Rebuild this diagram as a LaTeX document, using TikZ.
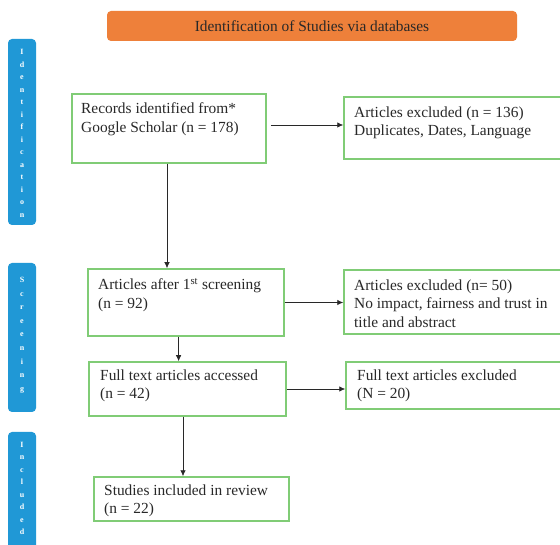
\documentclass[tikz,border=0pt]{standalone}
\usepackage{fontspec}
\setmainfont{Liberation Serif}
\usetikzlibrary{arrows.meta}
\definecolor{hdrorange}{RGB}{238,128,58}
\definecolor{barblue}{RGB}{32,152,214}
\definecolor{boxgreen}{RGB}{128,204,118}
\definecolor{inkgray}{RGB}{40,40,40}
\begin{document}
\begin{tikzpicture}[x=1pt,y=-1pt,
  box/.style={draw=boxgreen, line width=1.5pt, inner sep=0pt, fill=white},
  txt/.style={anchor=north west, inner sep=0pt, align=left, text=inkgray,
    font=\fontsize{15.4}{18.5}\selectfont},
  arr/.style={draw=inkgray, line width=0.75pt, -{Latex[length=6pt,width=5.5pt]}},
  bar/.style={fill=barblue, rounded corners=4pt, draw=none, inner sep=0pt, minimum width=28pt},
  bartxt/.style={anchor=north, text=white, align=center, inner sep=0pt,
    font=\fontsize{8}{12.5}\selectfont\bfseries},
  hdr/.style={fill=hdrorange, rounded corners=4pt, draw=none, inner sep=0pt,
    text=inkgray, font=\fontsize{15.4}{18}\selectfont}
]
\useasboundingbox (0,0) rectangle (560,545);
\clip (0,0) rectangle (560,545);
\fill[white] (0,0) rectangle (560,545);

% header
\node[hdr, minimum width=410pt, minimum height=30pt] (hdr) at (312,26) {Identification of Studies via databases};

% side bars
\node[bar, minimum height=186pt] (barI) at (22,132) {};
\node[bartxt] (barItxt) at (22,49.5) {I\\d\\e\\n\\t\\i\\f\\i\\c\\a\\t\\i\\o\\n};
\node[bar, minimum height=149pt] (barS) at (22,337.5) {};
\node[bartxt, font=\fontsize{8}{13.6}\selectfont\bfseries] (barStxt) at (22,277) {S\\c\\r\\e\\e\\n\\i\\n\\g};
\node[bar, minimum height=140pt] (barC) at (22,502) {};
\node[bartxt] (barCtxt) at (22,442) {I\\n\\c\\l\\u\\d\\e\\d};

% boxes
\node[box, minimum width=194pt, minimum height=69pt] (rec) at (169,128.5) {};
\node[txt] (rectxt) at (81,102.5) {Records identified from*\\Google Scholar (n = 178)};

\node[box, minimum width=256pt, minimum height=62pt] (ex1) at (472,128) {};
\node[txt] (ex1txt) at (354,106.5) {Articles excluded (n = 136)\\Duplicates, Dates, Language};

\node[box, minimum width=196pt, minimum height=67pt] (scr) at (186,302.5) {};
\node[txt] (scrtxt) at (98,278.5) {Articles after 1\textsuperscript{st} screening\\(n = 92)};

\node[box, minimum width=256pt, minimum height=64pt] (ex2) at (472,302) {};
\node[txt] (ex2txt) at (354,279.5) {Articles excluded (n= 50)\\No impact, fairness and trust in\\title and abstract};

\node[box, minimum width=197pt, minimum height=54pt] (full) at (187.5,389) {};
\node[txt] (fulltxt) at (100,369.5) {Full text articles accessed\\(n = 42)};

\node[box, minimum width=254pt, minimum height=47pt] (ex3) at (473,385.5) {};
\node[txt] (ex3txt) at (357,369.5) {Full text articles excluded\\(N = 20)};

\node[box, minimum width=195pt, minimum height=44pt] (incl) at (191.5,499) {};
\node[txt] (incltxt) at (104,484.5) {Studies included in review\\(n = 22)};

% connectors
\draw[arr] ([xshift=-2pt]rec.south) -- ([xshift=-2pt]rec.south |- scr.north);
\draw[arr] ([xshift=-7.4pt]scr.south) -- ([xshift=-7.4pt]scr.south |- full.north);
\draw[arr] ([xshift=-4.5pt]full.south) -- ([xshift=-4.5pt]full.south |- incl.north);

\draw[arr] ([xshift=4pt,yshift=3.5pt]rec.east) -- ([yshift=3.5pt]rec.east -| ex1.west);
\draw[arr] (scr.east) -- (scr.east -| ex2.west);
\draw[arr] (full.east) -- (full.east -| ex3.west);
\end{tikzpicture}
\end{document}
